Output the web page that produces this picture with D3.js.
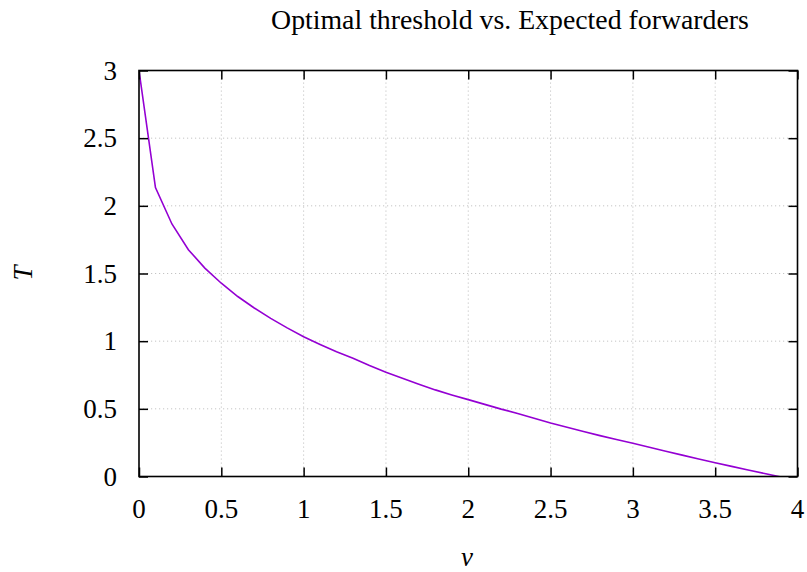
<!DOCTYPE html>
<html><head><meta charset="utf-8">
<script src="https://cdn.jsdelivr.net/npm/d3@7"></script>
<style>body{margin:0;background:#fff}svg{display:block}</style>
</head><body>
<svg id="c" width="807" height="572"></svg>
<script>
const vValues = [0,0.1,0.2,0.3,0.4,0.5,0.6,0.7,0.8,0.9,1.0,1.1,1.2,1.3,1.4,1.5,1.6,1.7,1.8,1.9,2.0,2.1,2.2,2.3,2.4,2.5,2.6,2.7,2.8,2.9,3.0,3.1,3.2,3.3,3.4,3.5,3.6,3.7,3.8,3.9];
const tValues = [3.0,2.135,1.866,1.676,1.540,1.428,1.330,1.245,1.168,1.098,1.033,0.976,0.922,0.874,0.820,0.770,0.726,0.682,0.640,0.603,0.568,0.533,0.498,0.466,0.430,0.395,0.364,0.333,0.302,0.273,0.245,0.216,0.187,0.158,0.130,0.102,0.075,0.048,0.022,-0.004];
const xTicks = [0,0.5,1,1.5,2,2.5,3,3.5,4];
const yTicks = [0,0.5,1,1.5,2,2.5,3];
const xTickLabels = ["0","0.5","1","1.5","2","2.5","3","3.5","4"];
const yTickLabels = ["0","0.5","1","1.5","2","2.5","3"];
const titleText = "Optimal threshold vs. Expected forwarders";
const xLabel = "v", yLabel = "T";

const svg = d3.select("#c");
const L = 139, R = 797.5, T = 70.5, B = 476.5;
const x = d3.scaleLinear().domain([0,4]).range([L,R]);
const y = d3.scaleLinear().domain([0,3]).range([B,T]);
const font = "'Liberation Serif', 'Times New Roman', serif";

// grid
const g = svg.append("g");
g.selectAll("line.gx").data(xTicks.slice(1,-1)).join("line")
  .attr("x1",d=>x(d)).attr("x2",d=>x(d)).attr("y1",T).attr("y2",B)
  .attr("stroke","#c4c4c4").attr("stroke-width",1).attr("stroke-dasharray","1.2,2.8");
g.selectAll("line.gy").data(yTicks.slice(1,-1)).join("line")
  .attr("y1",d=>y(d)).attr("y2",d=>y(d)).attr("x1",L).attr("x2",R)
  .attr("stroke","#c4c4c4").attr("stroke-width",1).attr("stroke-dasharray","1.2,2.8");

// clip
svg.append("clipPath").attr("id","clip").append("rect").attr("x",L).attr("y",T).attr("width",R-L).attr("height",B-T);

const data = vValues.map((v,i)=>[v,tValues[i]]);
svg.append("path").datum(data).attr("clip-path","url(#clip)")
  .attr("d", d3.line().x(d=>x(d[0])).y(d=>y(d[1])))
  .attr("fill","none").attr("stroke","#9400d3").attr("stroke-width",1.6);

// axes with inward ticks (mirrored)
const tl = 9;
const axB = svg.append("g").attr("transform",`translate(0,${B})`)
  .call(d3.axisBottom(x).tickValues(xTicks).tickSize(-tl).tickFormat(""));
const axT = svg.append("g").attr("transform",`translate(0,${T})`)
  .call(d3.axisTop(x).tickValues(xTicks).tickSize(-tl).tickFormat(""));
const axL = svg.append("g").attr("transform",`translate(${L},0)`)
  .call(d3.axisLeft(y).tickValues(yTicks).tickSize(-tl).tickFormat(""));
const axR = svg.append("g").attr("transform",`translate(${R},0)`)
  .call(d3.axisRight(y).tickValues(yTicks).tickSize(-tl).tickFormat(""));
[axB,axT,axL,axR].forEach(a=>{
  a.select(".domain").remove();
  a.selectAll(".tick line").attr("stroke","#000").attr("stroke-width",1.5);
});
svg.append("rect").attr("x",L).attr("y",T).attr("width",R-L).attr("height",B-T)
  .attr("fill","none").attr("stroke","#000").attr("stroke-width",1.6);

// tick labels
svg.append("g").selectAll("text").data(xTicks).join("text")
  .attr("x",d=>x(d)).attr("y",518).attr("text-anchor","middle")
  .attr("font-family",font).attr("font-size",27).text((d,i)=>xTickLabels[i]);
svg.append("g").selectAll("text").data(yTicks).join("text")
  .attr("x",117).attr("y",d=>y(d)+9).attr("text-anchor","end")
  .attr("font-family",font).attr("font-size",27).text((d,i)=>yTickLabels[i]);

// title
const tt = svg.append("text").attr("font-family",font).attr("font-size",100).text(titleText);
const w = tt.node().getComputedTextLength();
tt.attr("font-size", 100*478/w).attr("x",510).attr("y",29).attr("text-anchor","middle");

svg.append("text").attr("x",467).attr("y",566).attr("text-anchor","middle")
  .attr("font-family",font).attr("font-style","italic").attr("font-size",27).text(xLabel);
svg.append("text").attr("transform","translate(32,273) rotate(-90)").attr("text-anchor","middle")
  .attr("font-family",font).attr("font-style","italic").attr("font-size",27).text(yLabel);
</script>
</body></html>
